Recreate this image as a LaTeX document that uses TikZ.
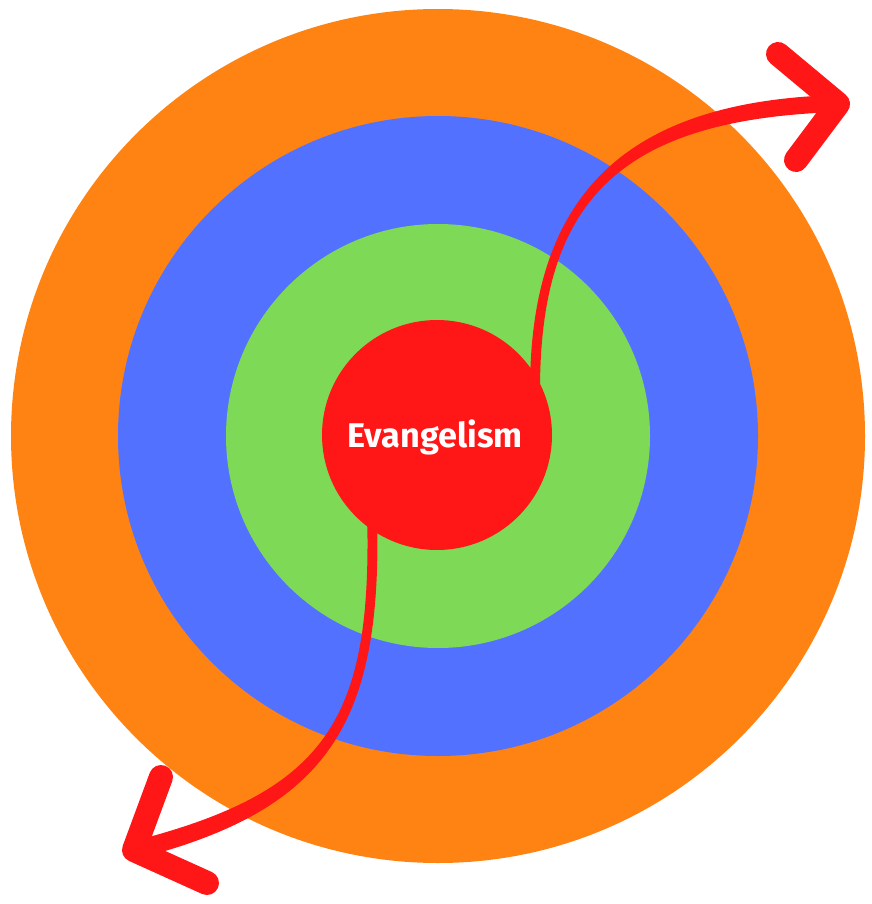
\documentclass[tikz,border=0pt]{standalone}
\usepackage{fontspec}
\newfontfamily\labelfont{Fira Sans}
\definecolor{ringorange}{RGB}{255,131,18}
\definecolor{ringblue}{RGB}{82,113,255}
\definecolor{ringgreen}{RGB}{126,217,87}
\definecolor{arrowred}{RGB}{255,22,22}
\begin{document}
\begin{tikzpicture}[x=1pt,y=-1pt,
  ring/.style={circle, inner sep=0pt, outer sep=0pt, minimum size=#1},
  shaft/.style={fill=arrowred},
  chevron/.style={draw=arrowred, line width=24pt, line cap=round, line join=round}]
\useasboundingbox (0,0) rectangle (871,904);
\node[ring=854pt, fill=ringorange] (outer) at (438,436) {};
\node[ring=640pt, fill=ringblue] (middle) at (438,436) {};
\node[ring=424pt, fill=ringgreen] (inner) at (438,436) {};
\node[ring=230pt, fill=arrowred] (core) at (437,435) {};
% upper arrow
\coordinate (upA) at (838,104);
\fill[shaft] (540,390) .. controls (540,200) and (620.3,119) .. (838.3,112)
  -- (837.7,95) .. controls (619.7,101) and (530,200) .. (530,390) -- cycle;
\draw[chevron] (778,54) -- (upA) -- (796,160);
% lower arrow
\coordinate (loA) at (134,850);
\fill[shaft] (377,510) .. controls (383,720) and (332.2,808.7) .. (137.2,858.7)
  -- (132.8,841.3) .. controls (327.8,791.3) and (373,720) .. (367,510) -- cycle;
\draw[chevron] (161,777) -- (loA) -- (207,883);
\node[anchor=base, text=white, inner sep=0pt] (label) at (435,447)
  {\resizebox{175pt}{!}{\labelfont\bfseries Evangelism}};
\end{tikzpicture}
\end{document}
